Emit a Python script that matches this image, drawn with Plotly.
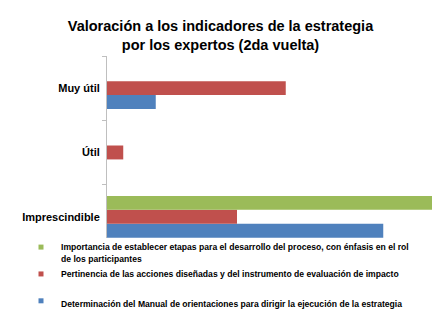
import plotly.graph_objects as go

categories = ["Imprescindible", "Útil", "Muy útil"]
series_names = [
    "Importancia de establecer etapas para el desarrollo del proceso, con énfasis en el rol<br>de los participantes",
    "Pertinencia de las acciones diseñadas y del instrumento de evaluación de impacto",
    "Determinación del Manual de orientaciones para dirigir la ejecución de la estrategia",
]
green_vals = [20, 0, 0]
red_vals = [8, 1, 11]
blue_vals = [17, 0, 3]
colors = ["#9BBB59", "#C0504D", "#4F81BD"]

FONT = "Liberation Sans, Arial, sans-serif"

fig = go.Figure()
# bars: first trace is drawn at the bottom of each group
for vals, col in [(blue_vals, colors[2]), (red_vals, colors[1]), (green_vals, colors[0])]:
    fig.add_trace(go.Bar(y=categories, x=vals, orientation="h",
                         marker=dict(color=col, line=dict(width=0)),
                         showlegend=False, hoverinfo="skip"))

# legend entries (small square markers) on hidden helper axes
legend_labels = [series_names[0], series_names[1] + "<br> ", series_names[2]]
for i, (name, col) in enumerate(zip(legend_labels, colors)):
    fig.add_trace(go.Scatter(x=[0], y=[0], mode="markers", name=name,
                             legendgroup=f"g{i}", xaxis="x2", yaxis="y2",
                             hoverinfo="skip",
                             marker=dict(symbol="square", size=5, color=col)))

W, H = 441, 327
L, R, T, B = 107, 9, 56, 89
pw, ph = W - L - R, H - T - B

fig.update_layout(
    width=W, height=H,
    margin=dict(l=L, r=R, t=T, b=B, autoexpand=False),
    paper_bgcolor="white", plot_bgcolor="white",
    barmode="group", bargap=0.35, bargroupgap=0,
    title=dict(text="Valoración a los indicadores de la estrategia<br>por los expertos (2da vuelta)",
               x=0.5, xanchor="center", y=1 - 31 / H, yanchor="middle",
               font=dict(family=FONT, size=14.5, color="#000000", weight="bold")),
    xaxis=dict(range=[0, 20], visible=False, fixedrange=True),
    yaxis=dict(categoryorder="array", categoryarray=categories,
               range=[-0.33, 2.5],
               showline=True, linecolor="#BFBFBF", linewidth=1,
               ticks="outside", tickson="boundaries", ticklen=4, tickcolor="#BFBFBF",
               ticklabelstandoff=4, showgrid=False, zeroline=False,
               tickfont=dict(family=FONT, size=11, color="#000000", weight="bold")),
    xaxis2=dict(range=[10, 11], visible=False, overlaying="x"),
    yaxis2=dict(range=[10, 11], visible=False, overlaying="y"),
    legend=dict(x=(21 - L) / pw, y=(H - B - 235) / ph,
                xanchor="left", yanchor="top", valign="top",
                traceorder="grouped", tracegroupgap=1.5,
                bgcolor="rgba(255,255,255,0)", borderwidth=0,
                font=dict(family=FONT, size=8.6, color="#000000", weight="bold")),
)

fig.write_html("out.html")
